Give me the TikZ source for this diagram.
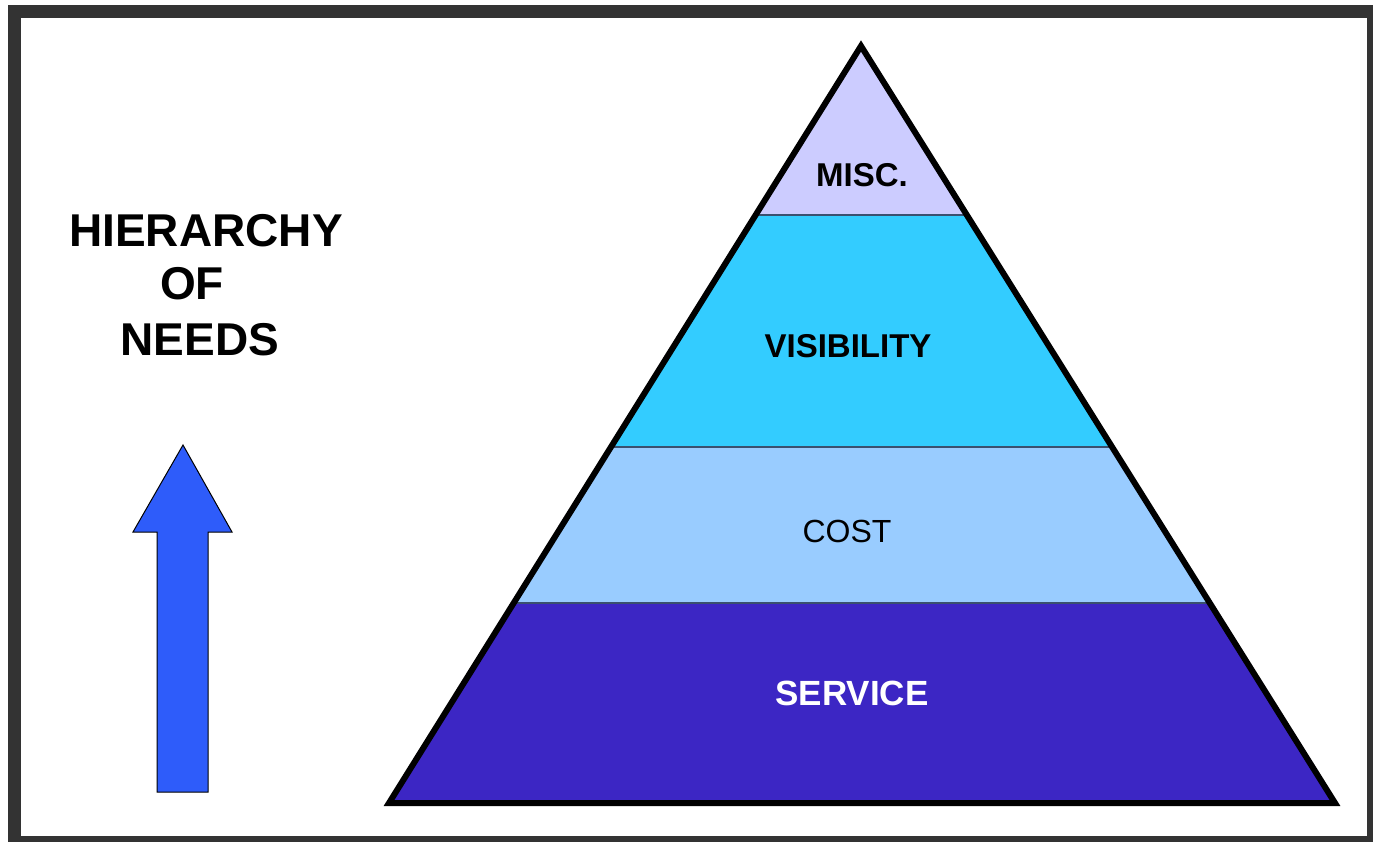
\documentclass[tikz,border=0pt]{standalone}
\usepackage{fontspec}
\setmainfont{Liberation Sans}
\definecolor{framegray}{HTML}{333333}
\definecolor{misccol}{HTML}{CCCCFF}
\definecolor{viscol}{HTML}{33CCFF}
\definecolor{costcol}{HTML}{99CCFF}
\definecolor{servcol}{RGB}{60,38,196}
\definecolor{arrowcol}{RGB}{46,92,250}
\definecolor{bandline}{RGB}{58,80,112}
\tikzset{
  lbl/.style={anchor=base, inner sep=0pt, font=\bfseries\fontsize{34}{40}\selectfont},
  title/.style={anchor=base, inner sep=0pt, font=\bfseries\fontsize{46}{54}\selectfont},
}
\begin{document}
\begin{tikzpicture}[x=1pt,y=-1pt]
\useasboundingbox (0,0) rectangle (1373,842);
\fill[white] (0,0) rectangle (1373,842);
% frame
\draw[framegray, line width=13pt] (14.5,12) rectangle (1373.5,842.5);
% pyramid
\coordinate (apex) at (861,46);
\coordinate (bl) at (389,803);
\coordinate (br) at (1335,803);
\begin{scope}
\clip (apex) -- (br) -- (bl) -- cycle;
\fill[misccol] (300,0) rectangle (1400,215);
\fill[viscol] (300,215) rectangle (1400,447);
\fill[costcol] (300,447) rectangle (1400,603);
\fill[servcol] (300,603) rectangle (1400,810);
\draw[bandline, line width=2pt] (300,215) -- (1400,215);
\draw[bandline, line width=2pt] (300,447) -- (1400,447);
\draw[bandline, line width=2pt] (300,603) -- (1400,603);
\end{scope}
\draw[black, line width=6pt, line join=miter] (apex) -- (br) -- (bl) -- cycle;
% labels
\node[lbl, font=\bfseries\fontsize{33}{40}\selectfont] (misc) at (862,187) {MISC.};
\node[lbl, font=\bfseries\fontsize{33}{40}\selectfont] (vis) at (848,357) {VISIBILITY};
\node[lbl, font=\fontsize{32}{40}\selectfont] (cost) at (847,542) {COST};
\node[lbl, text=white, font=\bfseries\fontsize{35}{40}\selectfont] (serv) at (852,705) {SERVICE};
% title
\node[title] (t1) at (206,247) {HIERARCHY};
\node[title] (t2) at (192,300) {OF};
\node[title] (t3) at (200,355) {NEEDS};
% arrow
\filldraw[fill=arrowcol, draw=black, line width=1pt, line join=miter]
  (183,445) -- (232,532) -- (208,532) -- (208,792) -- (157,792) -- (157,532) -- (133,532) -- cycle;
\end{tikzpicture}
\end{document}
